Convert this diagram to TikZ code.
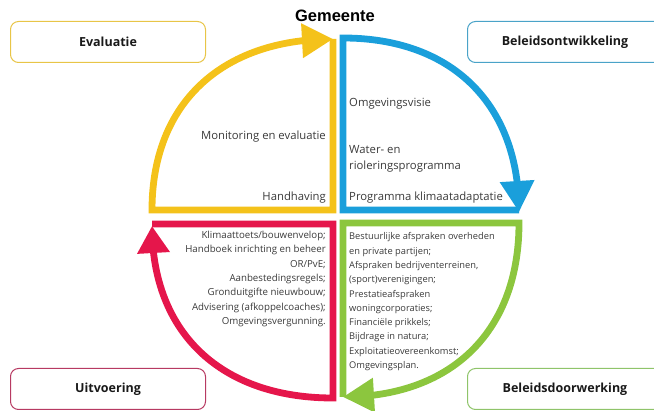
\documentclass[tikz,border=0pt]{standalone}
\usepackage{fontspec}
\setmainfont{Open Sans}
\newfontfamily\arialf{Liberation Sans}
\usetikzlibrary{arrows.meta,bending}
\definecolor{yelc}{HTML}{F4C21A}
\definecolor{bluc}{HTML}{1A9FDB}
\definecolor{redc}{HTML}{E5164B}
\definecolor{grnc}{HTML}{8CC63E}
\definecolor{yelb}{HTML}{E8C547}
\definecolor{blub}{HTML}{4AA3C8}
\definecolor{redb}{HTML}{B73A62}
\definecolor{grnb}{HTML}{8FC46A}
\definecolor{txt}{HTML}{3A3A3A}
\tikzset{
  cyc/.style={line width=6.8pt, line join=miter, miter limit=10},
  tipb/.style={-{Triangle[length=31pt,width=33pt,flex]}},
  phase/.style={draw, line width=1pt, rounded corners=8pt, minimum width=195pt, minimum height=41pt, inner sep=0pt, anchor=north west, font=\bfseries\fontsize{12.5}{14}\selectfont, text=black!90},
  lbl/.style={inner sep=0pt, text=txt, font=\fontsize{11.3}{13}\selectfont},
  small/.style={inner sep=0pt, text=txt, font=\fontsize{9.3}{14.3}\selectfont},
  smallr/.style={inner sep=0pt, text=txt, font=\fontsize{9.7}{14.3}\selectfont},
}
\begin{document}
\begin{tikzpicture}[x=1pt,y=-1pt]
\useasboundingbox (0,0) rectangle (654,411);
% cycle quadrants
\draw[cyc, yelc, tipb] (333,39) -- (333,210) -- (152,210) .. controls (152,104) and (221,39) .. (333,39);
\draw[cyc, bluc, tipb] (519,210) -- (343,210) -- (343,38) .. controls (452,38) and (519,104) .. (519,212);
\draw[cyc, redc, -{Triangle[length=27pt,width=31pt,flex]}] (152,224) -- (333,224) -- (333,398) .. controls (221,398) and (152,333) .. (152,226);
\draw[cyc, grnc, tipb] (343,397) -- (343,223) -- (519,223) .. controls (519,331) and (452,397) .. (343,397);
% title
\node[inner sep=0pt, font=\arialf\bfseries\fontsize{16.5}{18}\selectfont] (title) at (335,16) {Gemeente};
% phase boxes
\node[phase, draw=yelb] (eval) at (10,21) {Evaluatie};
\node[phase, draw=blub] (belo) at (467,21) {Beleidsontwikkeling};
\node[phase, draw=redb] (uitv) at (10,368) {Uitvoering};
\node[phase, draw=grnb] (beld) at (467,368) {Beleidsdoorwerking};
% yellow texts
\node[lbl, anchor=base east] (mon) at (326,140) {Monitoring en evaluatie};
\node[lbl, anchor=base east] (handh) at (326,201) {Handhaving};
% blue texts
\node[lbl, anchor=base west] (omgv) at (349,107) {Omgevingsvisie};
\node[lbl, anchor=base west] (water) at (349,153.5) {Water- en};
\node[lbl, anchor=base west] (riol) at (349,169.5) {rioleringsprogramma};
\node[lbl, anchor=base west] (prog) at (349,201) {Programma klimaatadaptatie};
% red texts
\node[smallr, align=right, anchor=north east] (uitvtxt) at (326,231) {Klimaattoets/bouwenvelop;\\Handboek inrichting en beheer\\OR/PvE;\\Aanbestedingsregels;\\Gronduitgifte nieuwbouw;\\Advisering (afkoppelcoaches);\\Omgevingsvergunning.};
% green texts
\node[small, align=left, anchor=north west] (beldtxt) at (349,232.5) {Bestuurlijke afspraken overheden\\en private partijen;\\Afspraken bedrijventerreinen,\\(sport)verenigingen;\\Prestatieafspraken\\woningcorporaties;\\Financiële prikkels;\\Bijdrage in natura;\\Exploitatieovereenkomst;\\Omgevingsplan.};
\end{tikzpicture}
\end{document}
